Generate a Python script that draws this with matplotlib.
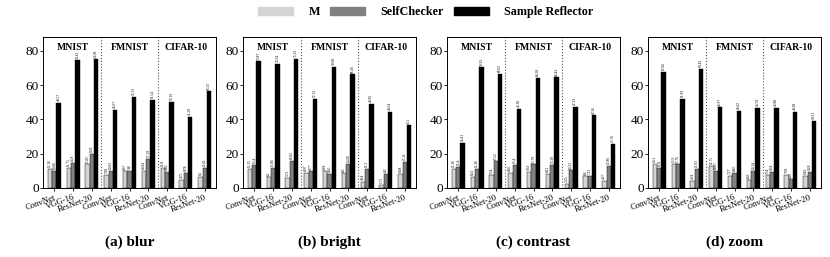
import matplotlib
matplotlib.use("Agg")
import matplotlib.pyplot as plt
import numpy as np
from matplotlib.patches import Patch

plt.rcParams['font.family'] = ['Liberation Serif', 'DejaVu Serif']

datasets = ["MNIST", "FMNIST", "CIFAR-10"]
models = ["ConvNet", "VGG-16", "ResNet-20"]
series = ["M", "SelfChecker", "Sample Reflector"]
panels = ["(a) blur", "(b) bright", "(c) contrast", "(d) zoom"]

# values per panel, ordered MNIST(ConvNet,VGG,ResNet), FMNIST(...), CIFAR-10(...)
blur_m = [11.36, 11.71, 13.85, 7.81, 9.67, 10.04, 11.8, 4.75, 6.5]
blur_sc = [10.06, 14.8, 19.8, 10.03, 9.8, 17.19, 9.46, 8.78, 11.61]
blur_sr = [49.57, 74.41, 74.98, 45.67, 53.13, 51.54, 50.19, 41.39, 56.33]

bright_m = [11.35, 6.20, 5.73, 8.97, 9.68, 8.5, 3.64, 1.75, 8.08]
bright_sc = [13.4, 11.86, 16.02, 9.77, 8.45, 14.06, 11.3, 8.20, 15.11]
bright_sr = [73.87, 72.34, 75.13, 52.13, 70.68, 66.26, 48.85, 44.34, 36.50]

contrast_m = [11.36, 6.61, 7.34, 8.65, 9.59, 8.12, 2.26, 6.80, 4.27]
contrast_sc = [12.4, 11.36, 15.52, 13.4, 13.79, 13.39, 10.22, 7.12, 12.86]
contrast_sr = [26.41, 70.33, 66.62, 46.18, 64.28, 64.43, 47.13, 42.36, 25.76]

zoom_m = [14.1, 13.9, 4.34, 12.75, 7.27, 4.43, 7.34, 7.68, 6.89]
zoom_sc = [11.8, 13.76, 11.03, 10.07, 8.85, 10.14, 9.34, 5.05, 9.28]
zoom_sr = [67.66, 51.99, 69.43, 46.97, 45.02, 46.59, 46.88, 44.38, 39.21]

panel_data = [
    (blur_m, blur_sc, blur_sr),
    (bright_m, bright_sc, bright_sr),
    (contrast_m, contrast_sc, contrast_sr),
    (zoom_m, zoom_sc, zoom_sr),
]
colors = ["#d4d4d4", "#808080", "#000000"]

W, H = 830, 257
fig = plt.figure(figsize=(W / 100, H / 100), dpi=100)

lefts = [43, 243, 447, 648]
ax_w = 173
bottom_px, top_px = 188, 37

bw = 0.23
x = np.arange(9)
for i, (ax_left, title, data) in enumerate(zip(lefts, panels, panel_data)):
    ax = fig.add_axes([ax_left / W, 1 - bottom_px / H, ax_w / W, (bottom_px - top_px) / H])
    for j, vals in enumerate(data):
        pos = x + (j - 1) * bw
        ax.bar(pos, vals, width=bw, color=colors[j], edgecolor="black", linewidth=0.3)
        for p, v in zip(pos, vals):
            ax.text(p, v + 1.0, f"{v:g}", rotation=90, ha="center", va="bottom", fontsize=2.6)
    ax.set_xlim(-0.6, 8.6)
    ax.set_ylim(0, 88)
    ax.set_yticks([0, 20, 40, 60, 80])
    ax.tick_params(axis="y", labelsize=9.5, length=2, width=0.6, pad=1)
    ax.set_xticks(x)
    ax.set_xticklabels(models * 3, rotation=20, ha="right", rotation_mode="anchor", fontsize=6.2)
    ax.tick_params(axis="x", length=2, width=0.6, pad=2)
    for xs in [2.5, 5.5]:
        ax.axvline(xs, color="#555555", linestyle=":", linewidth=0.8)
    for k, ds in enumerate(datasets):
        ax.text(k * 3 + 1, 82, ds, ha="center", va="center", fontsize=7, fontweight="bold")
    for s in ax.spines.values():
        s.set_linewidth(0.7)
    fig.text((ax_left + ax_w / 2) / W, 1 - 242 / H, title, ha="center", va="center",
             fontsize=11, fontweight="bold")

handles = [Patch(facecolor=c, edgecolor=c) for c in colors]
fig.legend(handles, series, loc="center", bbox_to_anchor=(426 / W, 1 - 12 / H), ncol=3,
           frameon=False, prop={"weight": "bold", "size": 8.7}, handlelength=2.9,
           handleheight=0.6, columnspacing=0.85, handletextpad=1.25)

fig.savefig("out.png", dpi=100)
